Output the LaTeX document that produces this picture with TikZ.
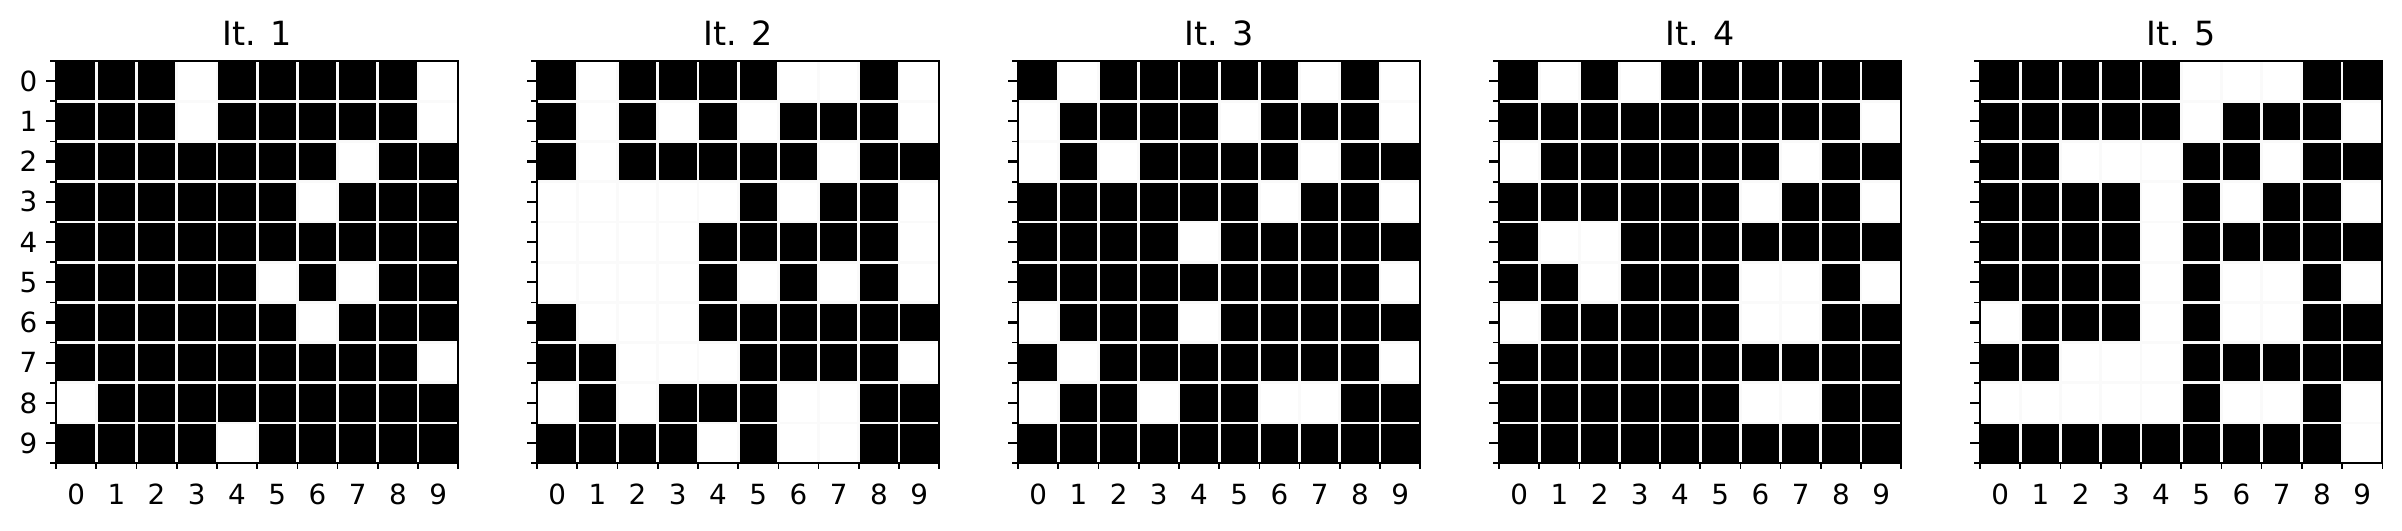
\documentclass[tikz,border=0pt]{standalone}
\usepackage{fontspec}
\setmainfont{DejaVu Sans}

% one string per row, 1 = black cell
\def\gridi{1110111110,1110111110,1111111011,1111110111,1111111111,
1111101011,1111110111,1111111110,0111111111,1111011111}
\def\gridii{1011110010,1010101110,1011111011,0000010110,0000111110,
0000101010,1000111111,1100011110,0101110011,1111010011}
\def\gridiii{1011111010,0111101110,0101111011,1111110110,1111011111,
1111111110,0111011111,1011111110,0110110011,1111111111}
\def\gridiv{1010111111,1111111110,0111111011,1111110110,1001111111,
1101110010,0111110011,1111111111,1111110011,1111111111}
\def\gridv{1111100011,1111101110,1100011011,1111010110,1111011111,
1111010010,0111010011,1100011111,0000010010,1111111110}

\newcount\colidx
\def\parsebits#1{\ifx#1\relax\else
  \ifnum#1=1 \fill[Cell] (\the\colidx,\r) rectangle ++(1,1);\fi
  \advance\colidx by 1 \expandafter\parsebits\fi}

\begin{document}
\begin{tikzpicture}[x=0.36pt,y=-0.36pt]
	\tikzstyle{Cell} = [fill=black]
	\tikzstyle{GridLine} = [draw=white!98!black,line width=1pt]
	\tikzstyle{Frame} = [draw=black,line width=0.8pt]
	\tikzstyle{Tick} = [draw=black,line width=0.8pt]
	\tikzstyle{MinorTick} = [draw=black,line width=0.6pt]
	\useasboundingbox (0,0) rectangle (2402,530);
	\foreach \p in {1,...,5}{
	\begin{scope}[shift={(56+481*\p-481,61)},x=14.483pt,y=-14.483pt]
		\expandafter\let\expandafter\rows\csname grid\romannumeral\p\endcsname
		\foreach \bits [count=\r from 0] in \rows{
			\colidx=0 \expandafter\parsebits\bits\relax}
		\foreach \k in {1,...,9}{
			\draw[GridLine] (\k,0) -- (\k,10);
			\draw[GridLine] (0,\k) -- (10,\k);}
		\draw[Frame] (0,0) rectangle (10,10);
		\foreach \k in {0,...,9}
			\draw[Tick] (0,\k+0.5) -- ++(-3.5pt,0);
		\foreach \k in {0,...,10}{
			\draw[MinorTick] (0,\k) -- ++(-2pt,0);
			\draw[MinorTick] (\k,10) -- ++(0,-2pt);}
		\node[anchor=base,font=\fontsize{12}{14}\selectfont] (title\p) at (5,0) [yshift=5.5pt] {It. \p};
		\foreach \c in {0,...,9}
			\node[anchor=base,inner sep=0pt] (xl\p-\c) at (\c+0.5,10) [yshift=-14.65pt] {\c};
	\end{scope}}
	\begin{scope}[shift={(56,61)},x=14.483pt,y=-14.483pt]
		\foreach \k in {0,...,9}
			\node[anchor=east,inner sep=0pt] (yl\k) at (0,\k+0.5) [xshift=-6.5pt] {\k};
	\end{scope}
\end{tikzpicture}
\end{document}
